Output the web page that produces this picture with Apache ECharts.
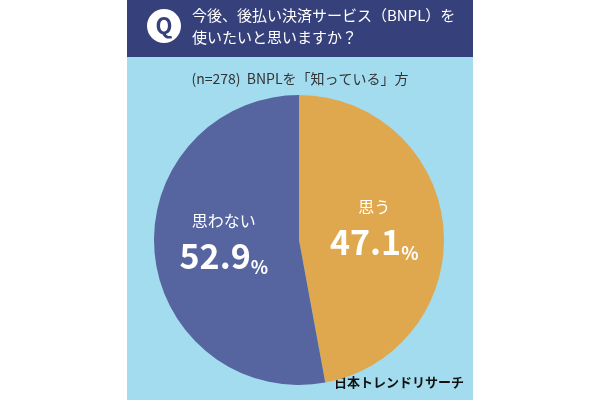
<!DOCTYPE html>
<html><head><meta charset="utf-8">
<script src="https://cdn.jsdelivr.net/npm/echarts@6/dist/echarts.min.js"></script>
<style>body{margin:0;background:#fff}#c{width:600px;height:400px}</style></head>
<body><div id="c"></div>
<script>
const categories = ['思う', '思わない'];
const values = [47.1, 52.9];
const colors = ['#dfa84f', '#56659f'];
const title = '今後、後払い決済サービス（BNPL）を\n使いたいと思いますか？';
const subtitle = '(n=278)  BNPLを「知っている」方';
const F = '"Noto Sans CJK JP", "Noto Sans", sans-serif';
const chart = echarts.init(document.getElementById('c'));
chart.setOption({
  animation: false,
  graphic: [
    {type:'rect', shape:{x:127,y:0,width:346,height:400}, style:{fill:'#a2dcee'}, z:-10},
    {type:'rect', shape:{x:127,y:0,width:346,height:57}, style:{fill:'#36417b'}, z:-9},
    {type:'circle', shape:{cx:164,cy:26,r:17}, style:{fill:'#fff'}},
    {type:'text', x:164, y:26, style:{text:'Q', fill:'#36417b', font:'bold 22px '+F, align:'center', verticalAlign:'middle'}},
    {type:'text', x:192, y:26, style:{text:title, fill:'#fff', font:'15px '+F, lineHeight:22, verticalAlign:'middle'}},
    {type:'text', x:300, y:79, style:{text:subtitle, fill:'#333', font:'14px '+F, align:'center', verticalAlign:'middle'}},
    {type:'text', x:464, y:382, style:{text:'日本トレンドリサーチ', fill:'#111', font:'bold 13px '+F, align:'right', verticalAlign:'middle'}}
  ],
  series: [{
    type: 'pie', center: [299, 240], radius: [0, 145], startAngle: 90, clockwise: true,
    data: categories.map((n,i)=>({name:n, value:values[i], itemStyle:{color:colors[i]}})),
    label: {
      position: 'inside', color: '#fff', fontFamily: F, padding: [0,0,12,0],
      formatter: p => '{n|' + p.name + '}\n{v|' + p.value.toFixed(1) + '}{p|%}',
      rich: {
        n: {fontSize: 16, color:'#fff', fontFamily:F, lineHeight: 30, align:'center'},
        v: {fontSize: 34, fontWeight:'bold', color:'#fff', fontFamily:F, lineHeight: 40},
        p: {fontSize: 18, fontWeight:'bold', color:'#fff', fontFamily:F, lineHeight: 40, verticalAlign:'bottom'}
      }
    },
    labelLine: {show:false}, emphasis:{disabled:true}
  }]
});
</script></body></html>
